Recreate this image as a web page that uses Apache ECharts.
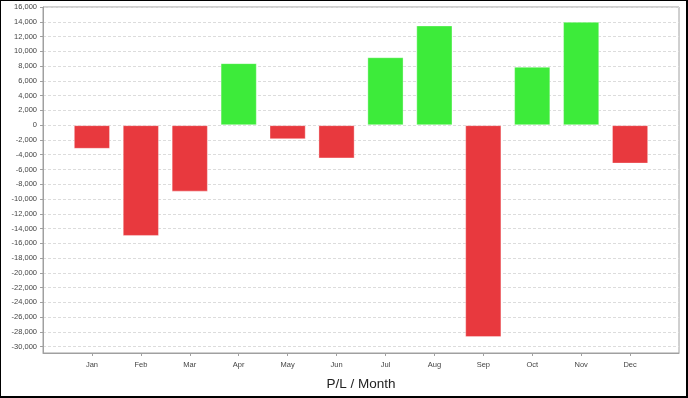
<!DOCTYPE html>
<html>
<head>
<meta charset="utf-8">
<script src="https://cdn.jsdelivr.net/npm/echarts@6/dist/echarts.min.js"></script>
<style>
  html, body { margin: 0; padding: 0; background: #fff; }
  #frame {
    width: 685px; height: 395px;
    border-left: 1px solid #000; border-top: 1px solid #000;
    border-right: 2px solid #000; border-bottom: 2px solid #000;
  }
  #chart { width: 685px; height: 395px; }
</style>
</head>
<body>
<div id="frame"><div id="chart"></div></div>
<script>
const months = ['Jan', 'Feb', 'Mar', 'Apr', 'May', 'Jun', 'Jul', 'Aug', 'Sep', 'Oct', 'Nov', 'Dec']
const profit = [-3200, -15000, -9000, 8400, -1900, -4500, 9200, 13500, -28700, 7900, 14000, -5200]
const yTicks = [
  -30000, -28000, -26000, -24000, -22000, -20000, -18000, -16000, -14000, -12000,
  -10000, -8000, -6000, -4000, -2000, 0, 2000, 4000, 6000, 8000,
  10000, 12000, 14000, 16000,
]

const GREEN = '#3deb3a'
const RED = '#e8393e'

// empty slots at both ends give the half-band padding seen in the original
const cats = [''].concat(months, [''])
const values = ['-'].concat(profit, ['-'])

const chart = echarts.init(document.getElementById('chart'))

chart.setOption({
  animation: false,
  textStyle: { fontFamily: 'Liberation Sans, Arial, sans-serif' },
  grid: {
    left: 42, right: 7, top: 6, bottom: 43,
    show: true, borderColor: '#a0a0a0', borderWidth: 1,
  },
  xAxis: {
    type: 'category',
    data: cats,
    boundaryGap: false,
    axisLine: { onZero: false, lineStyle: { color: '#a0a0a0' } },
    axisTick: {
      length: 3,
      interval: (i) => i > 0 && i < cats.length - 1,
      lineStyle: { color: '#a0a0a0' },
    },
    axisLabel: { interval: 0, fontSize: 7.5, color: '#444', margin: 8 },
    splitLine: { show: false },
    name: 'P/L / Month',
    nameLocation: 'middle',
    nameGap: 24,
    nameTextStyle: { fontSize: 13.5, color: '#222' },
  },
  yAxis: {
    type: 'value',
    min: -30850,
    max: 16000,
    axisLine: { show: true, lineStyle: { color: '#a0a0a0' } },
    axisTick: { show: true, length: 3, customValues: yTicks, lineStyle: { color: '#a0a0a0' } },
    axisLabel: {
      customValues: yTicks,
      fontSize: 7.5,
      color: '#444',
      margin: 6,
      formatter: (v) => v.toLocaleString('en-US'),
    },
    splitLine: { show: true, lineStyle: { color: '#dcdcdc', type: [3, 2] } },
  },
  series: [
    {
      type: 'bar',
      data: values,
      barWidth: '74%',
      itemStyle: {
        color: (p) => (p.value >= 0 ? GREEN : RED),
        borderColor: 'rgba(255,255,255,0.35)',
        borderWidth: 1,
      },
    },
  ],
})
</script>
</body>
</html>
